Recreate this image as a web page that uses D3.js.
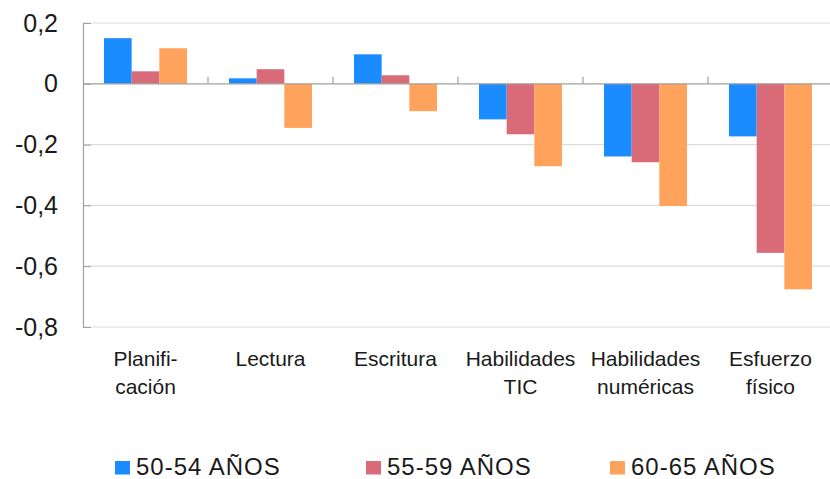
<!DOCTYPE html>
<html>
<head>
<meta charset="utf-8">
<script src="https://cdn.jsdelivr.net/npm/d3@7"></script>
<style>
  body { margin: 0; background: #fff; }
  text { font-family: "Liberation Sans", Arial, sans-serif; fill: #1a1a1a; }
</style>
</head>
<body>
<svg id="chart" width="830" height="479"></svg>
<script>
'use strict'

// categories, two-line labels
var categories = ["Planificación", "Lectura", "Escritura", "Habilidades TIC", "Habilidades numéricas", "Esfuerzo físico"]
var catLabels = [["Planifi-", "cación"], ["Lectura"], ["Escritura"], ["Habilidades", "TIC"], ["Habilidades", "numéricas"], ["Esfuerzo", "físico"]]

var seriesNames = ["50-54 AÑOS", "55-59 AÑOS", "60-65 AÑOS"]
var seriesColors = ["#1b8cff", "#d96a78", "#ffa35c"]

var s5054 = [0.15, 0.018, 0.097, -0.117, -0.239, -0.173]
var s5559 = [0.041, 0.048, 0.028, -0.166, -0.258, -0.556]
var s6065 = [0.117, -0.145, -0.09, -0.271, -0.402, -0.676]

var yTicks = [0.2, 0, -0.2, -0.4, -0.6, -0.8]

var series = [s5054, s5559, s6065]

var svg = d3.select("#chart")
var plotL = 83, plotR = 833, plotT = 23, plotB = 327

var x0 = d3.scaleBand().domain(categories).range([plotL, plotR]).padding(0)
var x1 = d3.scaleBand().domain(seriesNames).range([21, x0.bandwidth() - 21]).padding(0)
var y = d3.scaleLinear().domain([-0.8, 0.2]).range([plotB, plotT])

var fmt = function(d) { return d === 0 ? "0" : d3.format(".1f")(d).replace(".", ",").replace("−", "-") }

// gridlines
svg.append("g")
  .selectAll("line")
  .data(yTicks.filter(function(d) { return d !== 0 }))
  .join("line")
    .attr("x1", plotL).attr("x2", plotR)
    .attr("y1", function(d) { return y(d) }).attr("y2", function(d) { return y(d) })
    .attr("stroke", "#dcdcdc").attr("stroke-width", 1.2)

// y axis
var yAxis = d3.axisLeft(y).tickValues(yTicks).tickFormat(fmt).tickSize(-8).tickPadding(25)
var gy = svg.append("g").attr("transform", "translate(" + plotL + ",0)").call(yAxis)
gy.select(".domain").attr("stroke", "#a0a0a0").attr("stroke-width", 1.2)
gy.selectAll(".tick line").attr("stroke", "#a0a0a0")
gy.selectAll(".tick text").attr("font-size", 25).attr("fill", "#1a1a1a")
  .style("font-family", "'Liberation Sans', Arial, sans-serif")

// bars
var groups = svg.append("g")
  .selectAll("g")
  .data(categories)
  .join("g")
    .attr("transform", function(d) { return "translate(" + x0(d) + ",0)" })

groups.selectAll("rect")
  .data(function(d, i) { return series.map(function(s, k) { return { key: seriesNames[k], value: s[i], color: seriesColors[k] } }) })
  .join("rect")
    .attr("x", function(d) { return x1(d.key) })
    .attr("width", x1.bandwidth())
    .attr("y", function(d) { return y(Math.max(0, d.value)) })
    .attr("height", function(d) { return Math.abs(y(d.value) - y(0)) })
    .attr("fill", function(d) { return d.color })

// zero line with category ticks
svg.append("line")
  .attr("x1", plotL).attr("x2", plotR)
  .attr("y1", y(0)).attr("y2", y(0))
  .attr("stroke", "#a0a0a0").attr("stroke-width", 1.2)

svg.append("g")
  .selectAll("line")
  .data(categories.slice(1))
  .join("line")
    .attr("x1", function(d) { return x0(d) }).attr("x2", function(d) { return x0(d) })
    .attr("y1", y(0) - 7).attr("y2", y(0))
    .attr("stroke", "#a0a0a0").attr("stroke-width", 1.2)

// category labels
var lab = svg.append("g")
  .selectAll("text")
  .data(categories)
  .join("text")
    .attr("x", function(d) { return x0(d) + x0.bandwidth() / 2 })
    .attr("y", 366)
    .attr("text-anchor", "middle")
    .attr("font-size", 21)

lab.selectAll("tspan")
  .data(function(d, i) { return catLabels[i] })
  .join("tspan")
    .attr("x", function() { return d3.select(this.parentNode).attr("x") })
    .attr("dy", function(d, i) { return i === 0 ? 0 : 28 })
    .text(function(d) { return d })

// legend
var legX = [115, 366, 610]
var leg = svg.append("g")
  .selectAll("g")
  .data(seriesNames)
  .join("g")
    .attr("transform", function(d, i) { return "translate(" + legX[i] + ",461)" })

leg.append("rect")
  .attr("width", 15).attr("height", 13.5)
  .attr("fill", function(d, i) { return seriesColors[i] })

leg.append("text")
  .attr("x", 21).attr("y", 13.5)
  .attr("font-size", 24)
  .attr("letter-spacing", 1)
  .text(function(d) { return d })
</script>
</body>
</html>
